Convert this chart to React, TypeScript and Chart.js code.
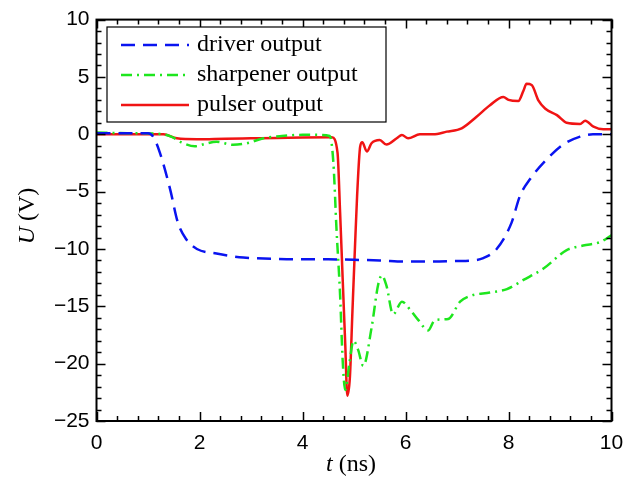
import React, { useEffect, useRef } from "react";
import { Chart, registerables } from "chart.js";

Chart.register(...registerables);

// ---- data (t in ns, U in V) ----
const driverT = [0, 0.5, 1.0, 1.1, 1.23, 1.43, 1.58, 1.75, 1.95, 2.33, 2.85, 3.4, 3.9, 4.5, 5.0, 5.5, 6.0, 6.5, 7.0, 7.3, 7.51, 7.77, 8.06, 8.22, 8.42, 8.74, 9.06, 9.39, 9.64, 10];
const driverV = [0.1, 0.1, 0.1, -0.2, -1.6, -4.8, -7.7, -9.2, -10.0, -10.4, -10.75, -10.85, -10.9, -10.9, -10.95, -11.0, -11.1, -11.1, -11.05, -11.0, -10.8, -10.0, -7.7, -5.4, -3.9, -2.2, -0.9, -0.2, 0.0, 0.0];

const sharpT = [0, 0.6, 1.2, 1.45, 1.65, 1.91, 2.1, 2.33, 2.65, 2.92, 3.24, 3.6, 4.0, 4.3, 4.53, 4.6, 4.66, 4.73, 4.78, 4.83, 4.91, 4.99, 5.08, 5.18, 5.34, 5.47, 5.54, 5.63, 5.76, 5.93, 6.09, 6.25, 6.44, 6.57, 6.83, 7.06, 7.25, 7.64, 7.97, 8.29, 8.68, 9.13, 9.45, 9.78, 10];
const sharpV = [0.15, 0.1, 0.05, -0.2, -0.7, -1.05, -0.85, -0.65, -0.92, -0.78, -0.35, -0.15, -0.05, -0.05, -0.15, -2.5, -8.25, -14.0, -19.7, -22.3, -20.0, -18.0, -18.8, -20.2, -16.9, -13.1, -12.3, -13.2, -15.7, -14.6, -15.3, -16.2, -17.1, -16.2, -16.1, -14.6, -14.1, -13.8, -13.5, -12.7, -11.7, -10.1, -9.7, -9.4, -8.8];

const pulserT = [0, 0.6, 1.3, 1.56, 1.95, 2.5, 3.0, 3.5, 4.0, 4.57, 4.68, 4.73, 4.78, 4.83, 4.87, 4.92, 4.97, 5.02, 5.06, 5.12, 5.16, 5.25, 5.34, 5.5, 5.63, 5.83, 5.93, 6.05, 6.28, 6.54, 6.8, 7.09, 7.38, 7.64, 7.9, 8.0, 8.19, 8.29, 8.35, 8.45, 8.58, 8.71, 8.94, 9.13, 9.39, 9.49, 9.65, 9.84, 10];
const pulserV = [0.0, 0.0, 0.0, -0.35, -0.43, -0.38, -0.35, -0.32, -0.28, -0.26, -1.6, -6.8, -12.6, -18.3, -22.8, -21.2, -15.4, -9.7, -5.4, -1.06, -0.7, -1.5, -0.78, -0.5, -0.9, -0.35, -0.06, -0.35, 0.0, 0.0, 0.23, 0.52, 1.53, 2.53, 3.25, 3.0, 2.9, 3.8, 4.4, 4.3, 2.95, 2.25, 1.67, 1.0, 0.9, 1.18, 0.66, 0.43, 0.43];

const seriesLabels = ["driver output", "sharpener output", "pulser output"];
const xTicks = [0, 2, 4, 6, 8, 10];
const yTicks = [10, 5, 0, -5, -10, -15, -20, -25];

const zip = (t: number[], v: number[]) => t.map((x, i) => ({ x, y: v[i] }));

const SERIF = '"Liberation Serif", "DejaVu Serif", serif';
const SANS = '"Liberation Sans", Arial, sans-serif';

const framePlugin = {
  id: "frame",
  afterDraw(chart: any) {
    const ctx = chart.ctx;
    const { left, right, top, bottom } = chart.chartArea;
    const xs = chart.scales.x;
    const ys = chart.scales.y;
    ctx.save();
    ctx.strokeStyle = "#000";
    ctx.lineWidth = 2;
    ctx.strokeRect(left, top, right - left, bottom - top);
    ctx.lineWidth = 1.5;
    // x ticks (major every 2, minor every 0.4)
    for (let i = 0; i <= 25; i++) {
      const v = i * 0.4;
      const px = Math.round(xs.getPixelForValue(v)) + 0.5;
      const len = i % 5 === 0 ? 9 : 5;
      ctx.beginPath();
      ctx.moveTo(px, bottom);
      ctx.lineTo(px, bottom - len);
      ctx.moveTo(px, top);
      ctx.lineTo(px, top + len);
      ctx.stroke();
    }
    for (let i = -25; i <= 10; i++) {
      const py = Math.round(ys.getPixelForValue(i)) + 0.5;
      const len = i % 5 === 0 ? 9 : 5;
      ctx.beginPath();
      ctx.moveTo(left, py);
      ctx.lineTo(left + len, py);
      ctx.moveTo(right, py);
      ctx.lineTo(right - len, py);
      ctx.stroke();
    }
    // axis titles
    ctx.fillStyle = "#000";
    ctx.textBaseline = "middle";
    const drawMixed = (parts: { t: string; it: boolean }[], cx: number, cy: number, rot: number) => {
      ctx.save();
      ctx.translate(cx, cy);
      ctx.rotate(rot);
      let total = 0;
      const widths = parts.map((p) => {
        ctx.font = `${p.it ? "italic " : ""}24px ${SERIF}`;
        const w = ctx.measureText(p.t).width;
        total += w;
        return w;
      });
      let x = -total / 2;
      parts.forEach((p, i) => {
        ctx.font = `${p.it ? "italic " : ""}24px ${SERIF}`;
        ctx.textAlign = "left";
        ctx.fillText(p.t, x, 0);
        x += widths[i];
      });
      ctx.restore();
    };
    drawMixed([{ t: "t", it: true }, { t: " (ns)", it: false }], 351, 465, 0);
    drawMixed([{ t: "U", it: true }, { t: " (V)", it: false }], 28, 216, -Math.PI / 2);

    // legend
    const lx = 107, ly = 27, lw = 279, lh = 95;
    ctx.fillStyle = "#fff";
    ctx.fillRect(lx, ly, lw, lh);
    ctx.strokeStyle = "#000";
    ctx.lineWidth = 1.2;
    ctx.strokeRect(lx, ly, lw, lh);
    chart.data.datasets.forEach((ds: any, i: number) => {
      const y = 45 + i * 30;
      ctx.save();
      ctx.strokeStyle = ds.borderColor;
      ctx.lineWidth = ds.borderWidth;
      ctx.setLineDash(ds.borderDash || []);
      ctx.beginPath();
      ctx.moveTo(121, y);
      ctx.lineTo(189, y);
      ctx.stroke();
      ctx.restore();
      ctx.fillStyle = "#000";
      ctx.font = `24px ${SERIF}`;
      ctx.textAlign = "left";
      ctx.textBaseline = "middle";
      ctx.fillText(ds.label, 197, y);
    });
    ctx.restore();
  },
};

export default function App() {
  const ref = useRef<HTMLCanvasElement | null>(null);
  useEffect(() => {
    if (!ref.current) return;
    const chart = new Chart(ref.current, {
      type: "line",
      data: {
        datasets: [
          {
            label: seriesLabels[0],
            data: zip(driverT, driverV),
            borderColor: "#0a14f0",
            borderWidth: 2.5,
            borderDash: [14, 8],
            pointRadius: 0,
            cubicInterpolationMode: "monotone",
          },
          {
            label: seriesLabels[1],
            data: zip(sharpT, sharpV),
            borderColor: "#1ee61e",
            borderWidth: 2.5,
            borderDash: [11, 5, 2, 5],
            pointRadius: 0,
            cubicInterpolationMode: "monotone",
          },
          {
            label: seriesLabels[2],
            data: zip(pulserT, pulserV),
            borderColor: "#f01414",
            borderWidth: 2.5,
            pointRadius: 0,
            cubicInterpolationMode: "monotone",
          },
        ],
      },
      options: {
        animation: false,
        responsive: false,
        events: [],
        layout: { padding: { left: 0, top: 15.5, right: 30.5, bottom: 0 } },
        plugins: { legend: { display: false }, tooltip: { enabled: false } },
        scales: {
          x: {
            type: "linear",
            min: 0,
            max: 10,
            afterFit: (s: any) => { s.height = 66; },
            afterBuildTicks: (s: any) => { s.ticks = xTicks.map((v) => ({ value: v })); },
            grid: { display: false, drawTicks: false },
            border: { display: false },
            ticks: {
              padding: 10,
              color: "#000",
              font: { family: SANS, size: 21 },
              maxRotation: 0,
              callback: (v: any) => String(v),
            },
          },
          y: {
            type: "linear",
            min: -25,
            max: 10,
            afterFit: (s: any) => { s.width = 96.5; },
            afterBuildTicks: (s: any) => { s.ticks = yTicks.map((v) => ({ value: v })); },
            grid: { display: false, drawTicks: false },
            border: { display: false },
            ticks: {
              padding: 7,
              color: "#000",
              font: { family: SANS, size: 21 },
              callback: (v: any) => String(v).replace("-", "\u2212"),
            },
          },
        },
      },
      plugins: [framePlugin],
    } as any);
    return () => chart.destroy();
  }, []);
  return (
    <div style={{ position: "fixed", left: 0, top: 0, width: 642, height: 487, background: "#fff" }}>
      <canvas ref={ref} width={642} height={487} />
    </div>
  );
}
